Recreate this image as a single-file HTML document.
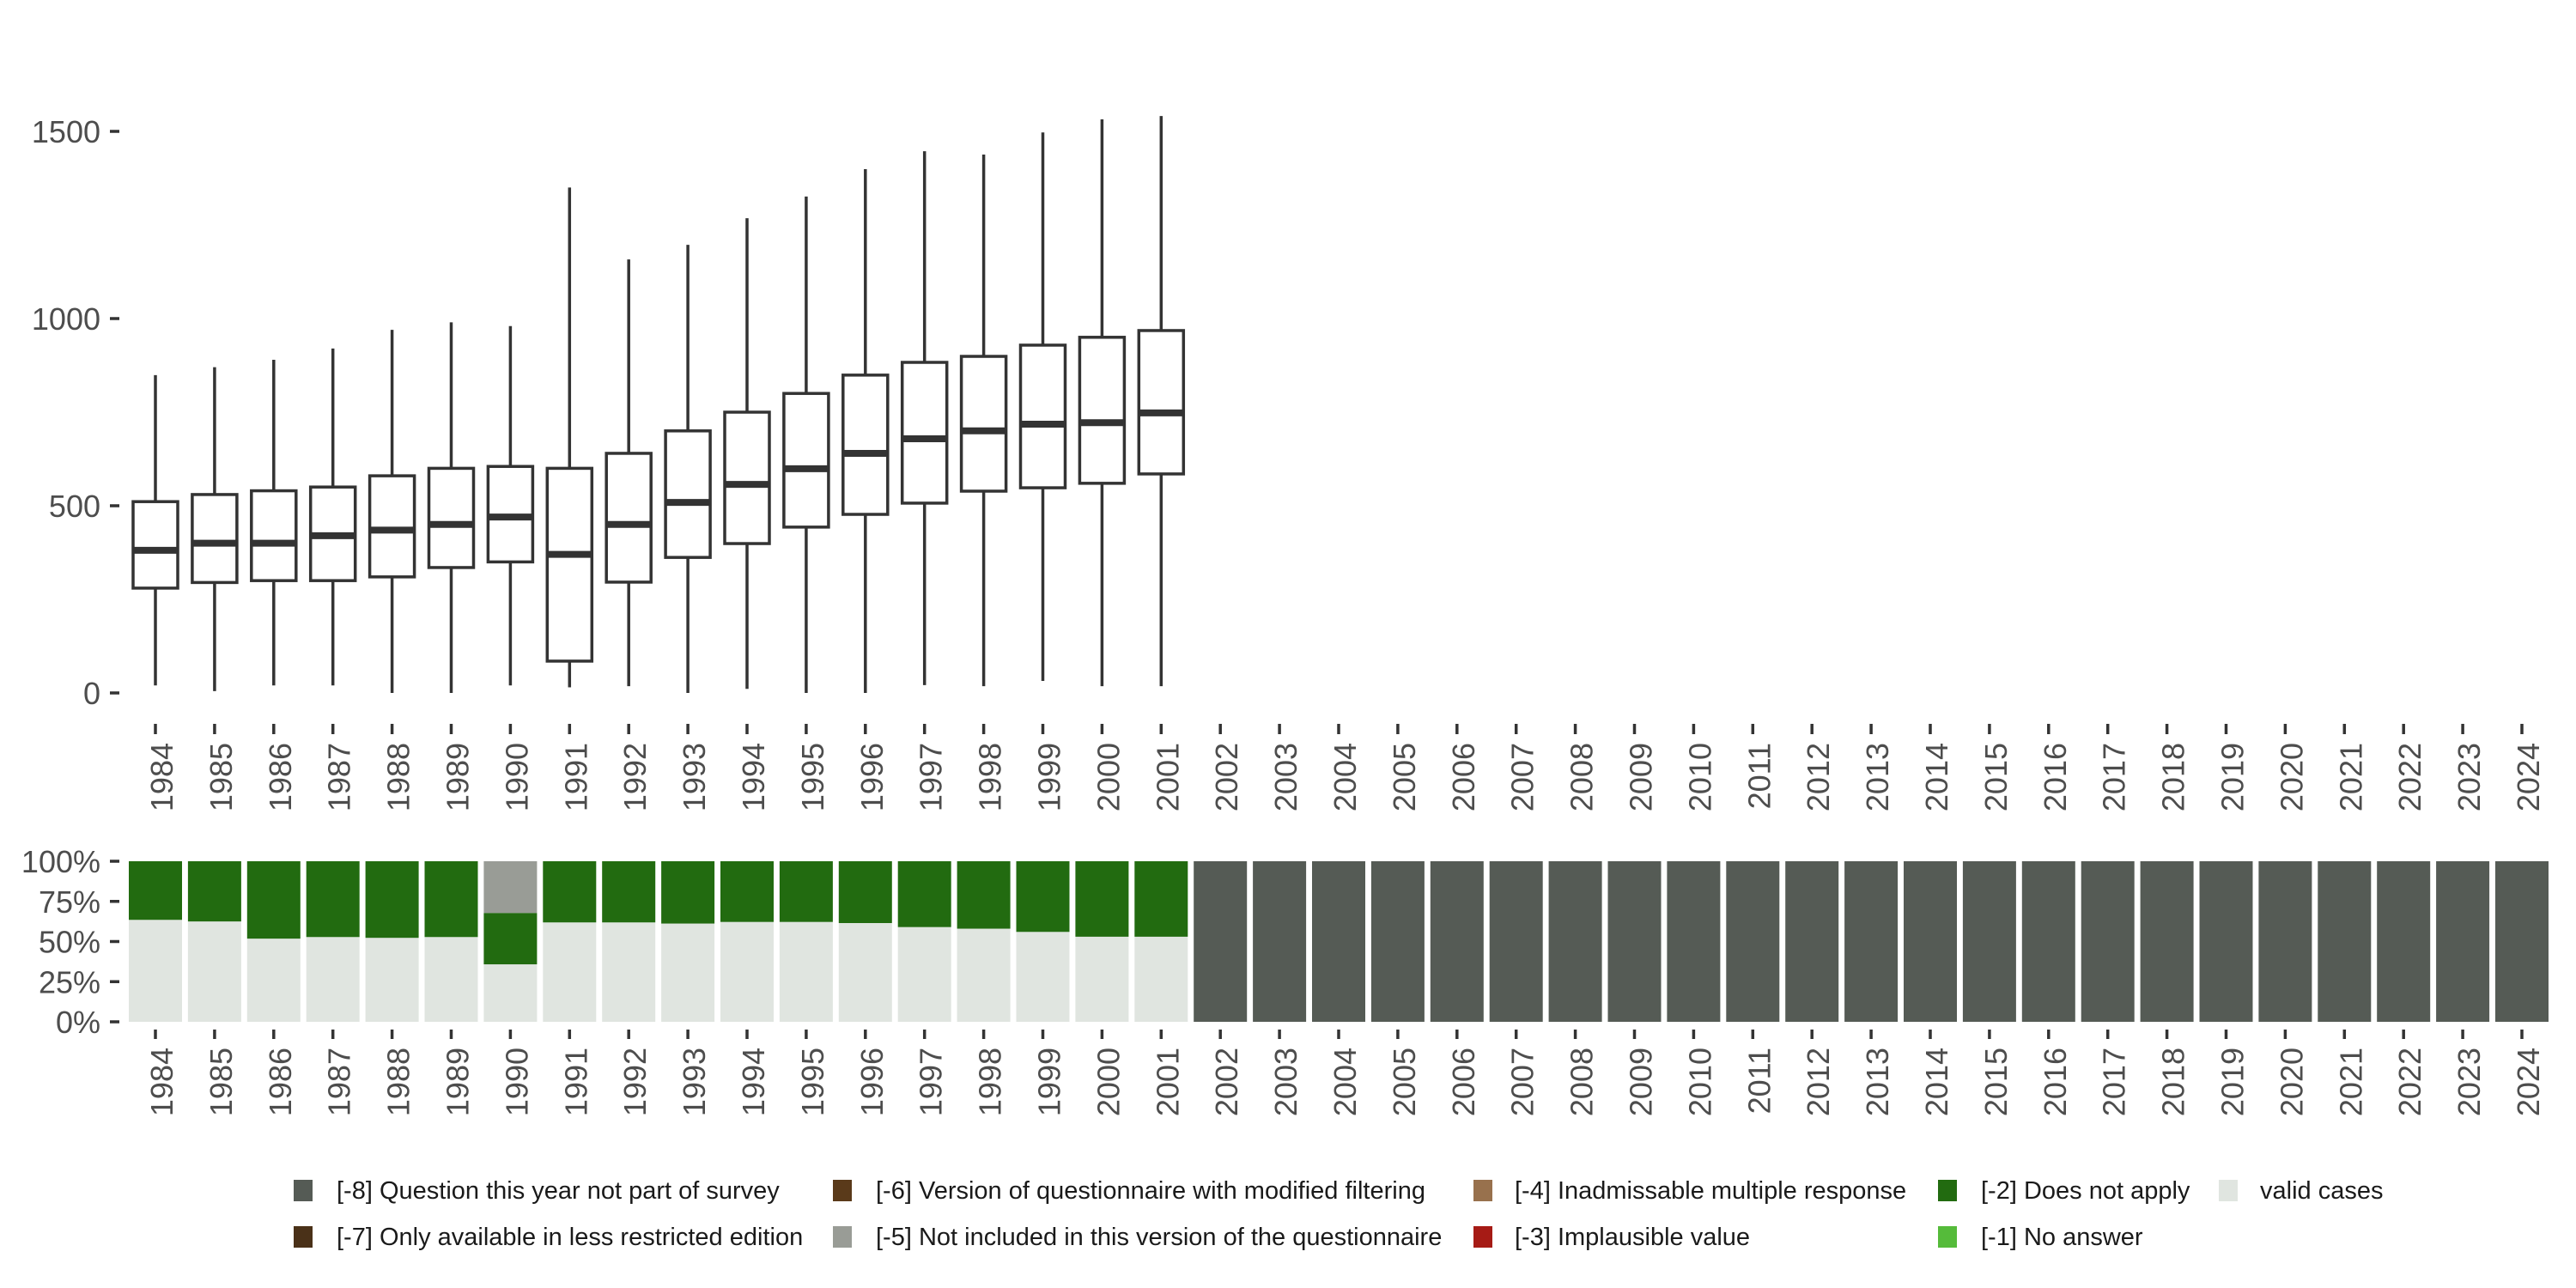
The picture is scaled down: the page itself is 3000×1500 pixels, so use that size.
<!DOCTYPE html>
<html><head><meta charset="utf-8">
<style>
html,body{margin:0;padding:0;background:#fff;}
svg{display:block;font-family:"Liberation Sans",sans-serif;}
</style></head>
<body>
<svg id="chart" width="3000" height="1500" viewBox="0 0 3000 1500" xmlns="http://www.w3.org/2000/svg">
<g id="topPanel"></g>
<g id="bottomPanel"></g>
<g id="legendPanel"></g>
</svg>
<script>
const years = [];
for (let y = 1984; y <= 2024; y++) years.push(String(y));
const boxYears = ["1984","1985","1986","1987","1988","1989","1990","1991","1992","1993","1994","1995","1996","1997","1998","1999","2000","2001"];
const whiskerHigh = [849,870,890,920,970,990,980,1350,1158,1197,1268,1326,1399,1447,1438,1497,1532,1541];
const q3 = [511,530,540,550,580,600,605,600,640,700,750,800,849,883,899,929,950,968];
const median = [381,400,400,420,435,450,470,370,450,509,557,599,640,679,700,718,722,748];
const q1 = [280,295,300,300,310,335,350,85,296,362,399,443,477,507,539,548,560,585];
const whiskerLow = [20,5,20,20,0,0,20,15,18,0,11,0,0,21,18,32,18,18];
const yTicks = [0,500,1000,1500];
const pctTicks = [0,25,50,75,100];
const pctLabels = ["0%","25%","50%","75%","100%"];
const validShare = [0.635,0.625,0.518,0.528,0.523,0.528,0.358,0.619,0.619,0.612,0.622,0.622,0.615,0.59,0.58,0.56,0.53,0.53];
const notApplyShare = [0.365,0.375,0.482,0.472,0.477,0.472,0.32,0.381,0.381,0.388,0.378,0.378,0.385,0.41,0.42,0.44,0.47,0.47];
const notIncludedShare = [0,0,0,0,0,0,0.322,0,0,0,0,0,0,0,0,0,0,0];
const legendLabels = ["[-8] Question this year not part of survey","[-7] Only available in less restricted edition","[-6] Version of questionnaire with modified filtering","[-5] Not included in this version of the questionnaire","[-4] Inadmissable multiple response","[-3] Implausible value","[-2] Does not apply","[-1] No answer","valid cases"];
const legendColors = ["#555b55","#4a3118","#5a3a1a","#999c96","#98714d","#a61b15","#226b10","#55bb3a","#e0e5e0"];

const NS = "http://www.w3.org/2000/svg";
function mk(tag, attrs, parent, txt){const e=document.createElementNS(NS,tag);for(const k in attrs)e.setAttribute(k,attrs[k]);if(txt!==undefined)e.textContent=txt;parent.appendChild(e);return e;}
const xPos = i => 181 + i*68.9;
const yTop = v => 807 - v*0.436;
const yBot = p => 1190 - p*1.87;

const topG = document.getElementById('topPanel');
yTicks.forEach(v=>{
  const t = mk('text',{x:117,y:yTop(v)+13,'text-anchor':'end','font-size':36,fill:'#4d4d4d'},topG,String(v));
  
  
  mk('line',{x1:128,x2:139,y1:yTop(v),y2:yTop(v),stroke:'#333','stroke-width':3.5},topG);
});
years.forEach((yr,i)=>{
  const x = xPos(i);
  mk('line',{x1:x,x2:x,y1:843,y2:855,stroke:'#333','stroke-width':3.5},topG);
  const t = mk('text',{x:x+20,y:865,'text-anchor':'end','font-size':36,fill:'#4d4d4d',transform:`rotate(-90 ${x+20} 865)`},topG,yr);
  
  
});
boxYears.forEach((yr,i)=>{
  const x = xPos(years.indexOf(yr)), w = 52;
  const g = mk('g',{},topG);
  
  
  mk('line',{x1:x,x2:x,y1:yTop(whiskerHigh[i]),y2:yTop(q3[i]),stroke:'#333','stroke-width':3.5},g);
  mk('line',{x1:x,x2:x,y1:yTop(q1[i]),y2:yTop(whiskerLow[i]),stroke:'#333','stroke-width':3.5},g);
  mk('rect',{x:x-w/2,y:yTop(q3[i]),width:w,height:yTop(q1[i])-yTop(q3[i]),fill:'#fff',stroke:'#333','stroke-width':3.5},g);
  mk('line',{x1:x-w/2,x2:x+w/2,y1:yTop(median[i]),y2:yTop(median[i]),stroke:'#333','stroke-width':8},g);
});

const botG = document.getElementById('bottomPanel');
pctTicks.forEach((p,i)=>{
  const t = mk('text',{x:117,y:yBot(p)+13,'text-anchor':'end','font-size':36,fill:'#4d4d4d'},botG,pctLabels[i]);
  
  
  mk('line',{x1:128,x2:139,y1:yBot(p),y2:yBot(p),stroke:'#333','stroke-width':3.5},botG);
});
years.forEach((yr,i)=>{
  const x = xPos(i), w = 62;
  let segs;
  if (i < validShare.length) segs = [[validShare[i],'#e0e5e0'],[notApplyShare[i],'#226b10'],[notIncludedShare[i],'#999c96']];
  else segs = [[1,'#555b55']];
  let acc = 0;
  segs.forEach(([s,c])=>{
    if (s<=0) return;
    const r = mk('rect',{x:x-w/2,y:yBot((acc+s)*100),width:w,height:yBot(acc*100)-yBot((acc+s)*100),fill:c},botG);
    
    
    acc += s;
  });
  mk('line',{x1:x,x2:x,y1:1199,y2:1210,stroke:'#333','stroke-width':3.5},botG);
  const t = mk('text',{x:x+20,y:1220,'text-anchor':'end','font-size':36,fill:'#4d4d4d',transform:`rotate(-90 ${x+20} 1220)`},botG,yr);
  
  
});

const legG = document.getElementById('legendPanel');
const colX = [342,970,1716,2257,2584];
const textX = [392,1020,1764,2307,2632];
legendLabels.forEach((lab,i)=>{
  const col = Math.floor(i/2), row = i%2;
  const cy = row===0 ? 1386 : 1440;
  const g = mk('g',{},legG);
  
  
  mk('rect',{x:colX[col],y:cy-12,width:22,height:25,fill:legendColors[i]},g);
  mk('text',{x:textX[col],y:cy+10,'font-size':29,fill:'#1a1a1a'},g,lab);
});
</script>
</body></html>
